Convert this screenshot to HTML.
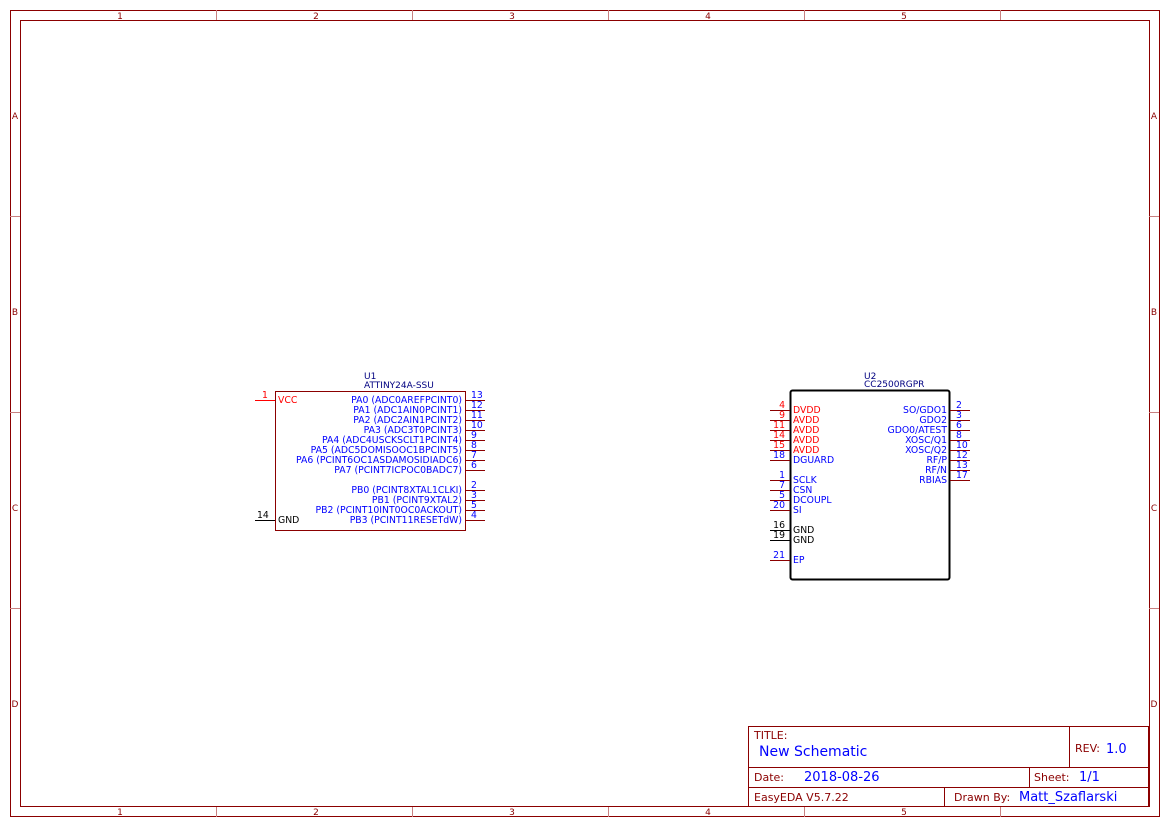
<!DOCTYPE html>
<html><head><meta charset="utf-8"><style>
html,body{margin:0;padding:0;background:#fff;}
svg{display:block;font-family:"DejaVu Sans","Liberation Sans",sans-serif;}
</style></head><body>
<svg width="1169" height="827" viewBox="0 0 1169 827" xmlns="http://www.w3.org/2000/svg">
<g fill="none" stroke="#8b0000" stroke-width="1">
<rect x="10.5" y="10.5" width="1149" height="806"/>
<rect x="20.5" y="20.5" width="1129" height="786"/>
<g stroke="#c88080">
<line x1="216.5" y1="10" x2="216.5" y2="20"/><line x1="412.5" y1="10" x2="412.5" y2="20"/><line x1="608.5" y1="10" x2="608.5" y2="20"/><line x1="804.5" y1="10" x2="804.5" y2="20"/><line x1="1000.5" y1="10" x2="1000.5" y2="20"/>
<line x1="216.5" y1="807" x2="216.5" y2="817"/><line x1="412.5" y1="807" x2="412.5" y2="817"/><line x1="608.5" y1="807" x2="608.5" y2="817"/><line x1="804.5" y1="807" x2="804.5" y2="817"/><line x1="1000.5" y1="807" x2="1000.5" y2="817"/>
<line x1="10" y1="216.5" x2="20" y2="216.5"/><line x1="10" y1="412.5" x2="20" y2="412.5"/><line x1="10" y1="608.5" x2="20" y2="608.5"/>
<line x1="1149" y1="216.5" x2="1159" y2="216.5"/><line x1="1149" y1="412.5" x2="1159" y2="412.5"/><line x1="1149" y1="608.5" x2="1159" y2="608.5"/>
</g>
<rect x="748.5" y="726.5" width="400" height="80"/>
<line x1="748" y1="767.5" x2="1149" y2="767.5"/>
<line x1="748" y1="787.5" x2="1149" y2="787.5"/>
<line x1="1069.5" y1="726" x2="1069.5" y2="767"/>
<line x1="1029.5" y1="767" x2="1029.5" y2="787"/>
<line x1="944.5" y1="787" x2="944.5" y2="807"/>
</g>
<g fill="#8b0000" font-size="9" text-anchor="middle">
<text x="120" y="19">1</text><text x="316" y="19">2</text><text x="512" y="19">3</text><text x="708" y="19">4</text><text x="904" y="19">5</text>
<text x="120" y="815">1</text><text x="316" y="815">2</text><text x="512" y="815">3</text><text x="708" y="815">4</text><text x="904" y="815">5</text>
<text x="15" y="119">A</text><text x="15" y="315">B</text><text x="15" y="511">C</text><text x="15" y="707">D</text>
<text x="1154" y="119">A</text><text x="1154" y="315">B</text><text x="1154" y="511">C</text><text x="1154" y="707">D</text>
</g>
<g font-size="11">
<text x="754" y="739" fill="#8b0000">TITLE:</text>
<text x="759" y="756" fill="#0000ff" font-size="14">New Schematic</text>
<text x="1075" y="752" fill="#8b0000">REV:</text>
<text x="1106" y="753" fill="#0000ff" font-size="13">1.0</text>
<text x="754" y="781" fill="#8b0000">Date:</text>
<text x="804" y="781" fill="#0000ff" font-size="13">2018-08-26</text>
<text x="1034" y="781" fill="#8b0000">Sheet:</text>
<text x="1079" y="781" fill="#0000ff" font-size="13">1/1</text>
<text x="754" y="801" fill="#8b0000">EasyEDA V5.7.22</text>
<text x="954" y="801" fill="#8b0000">Drawn By:</text>
<text x="1019" y="801" fill="#0000ff" font-size="13">Matt_Szaflarski</text>
</g>

<text x="364" y="379" font-size="9" fill="#000080">U1</text>
<text x="364" y="388" font-size="9" fill="#000080">ATTINY24A-SSU</text>
<rect x="275.5" y="391.5" width="190" height="139" fill="none" stroke="#8b0000"/>
<line x1="255" y1="400.5" x2="275" y2="400.5" stroke="#ff0000"/>
<line x1="255" y1="520.5" x2="275" y2="520.5" stroke="#000"/>
<g stroke="#8b0000">
<line x1="465" y1="400.5" x2="485" y2="400.5"/><line x1="465" y1="410.5" x2="485" y2="410.5"/><line x1="465" y1="420.5" x2="485" y2="420.5"/><line x1="465" y1="430.5" x2="485" y2="430.5"/><line x1="465" y1="440.5" x2="485" y2="440.5"/><line x1="465" y1="450.5" x2="485" y2="450.5"/><line x1="465" y1="460.5" x2="485" y2="460.5"/><line x1="465" y1="470.5" x2="485" y2="470.5"/>
<line x1="465" y1="490.5" x2="485" y2="490.5"/><line x1="465" y1="500.5" x2="485" y2="500.5"/><line x1="465" y1="510.5" x2="485" y2="510.5"/><line x1="465" y1="520.5" x2="485" y2="520.5"/>
</g>
<g font-size="9.3" transform="translate(0,-1)">
<text x="262" y="399" fill="#ff0000">1</text>
<text x="278" y="404" fill="#ff0000">VCC</text>
<text x="257" y="519" fill="#000">14</text>
<text x="278" y="524" fill="#000">GND</text>
<g fill="#0000ff">
<g text-anchor="end">
<text x="462" y="404">PA0 (ADC0AREFPCINT0)</text>
<text x="462" y="414">PA1 (ADC1AIN0PCINT1)</text>
<text x="462" y="424">PA2 (ADC2AIN1PCINT2)</text>
<text x="462" y="434">PA3 (ADC3T0PCINT3)</text>
<text x="462" y="444">PA4 (ADC4USCKSCLT1PCINT4)</text>
<text x="462" y="454">PA5 (ADC5DOMISOOC1BPCINT5)</text>
<text x="462" y="464">PA6 (PCINT6OC1ASDAMOSIDIADC6)</text>
<text x="462" y="474">PA7 (PCINT7ICPOC0BADC7)</text>
<text x="462" y="494">PB0 (PCINT8XTAL1CLKI)</text>
<text x="462" y="504">PB1 (PCINT9XTAL2)</text>
<text x="462" y="514">PB2 (PCINT10INT0OC0ACKOUT)</text>
<text x="462" y="524">PB3 (PCINT11RESETdW)</text>
</g>
<text x="471" y="399">13</text><text x="471" y="409">12</text><text x="471" y="419">11</text><text x="471" y="429">10</text><text x="471" y="439">9</text><text x="471" y="449">8</text><text x="471" y="459">7</text><text x="471" y="469">6</text>
<text x="471" y="489">2</text><text x="471" y="499">3</text><text x="471" y="509">5</text><text x="471" y="519">4</text>
</g>
</g>

<text x="864" y="379" font-size="9" fill="#000080">U2</text>
<text x="864" y="387" font-size="9" fill="#000080">CC2500RGPR</text>
<rect x="790.5" y="390.5" width="159" height="189" rx="2" fill="none" stroke="#000" stroke-width="2"/>
<g stroke="#8b0000">
<line x1="770" y1="410.5" x2="790" y2="410.5"/><line x1="770" y1="420.5" x2="790" y2="420.5"/><line x1="770" y1="430.5" x2="790" y2="430.5"/><line x1="770" y1="440.5" x2="790" y2="440.5"/><line x1="770" y1="450.5" x2="790" y2="450.5"/><line x1="770" y1="460.5" x2="790" y2="460.5"/>
<line x1="770" y1="480.5" x2="790" y2="480.5"/><line x1="770" y1="490.5" x2="790" y2="490.5"/><line x1="770" y1="500.5" x2="790" y2="500.5"/><line x1="770" y1="510.5" x2="790" y2="510.5"/>
<line x1="770" y1="560.5" x2="790" y2="560.5"/>
<line x1="950" y1="410.5" x2="970" y2="410.5"/><line x1="950" y1="420.5" x2="970" y2="420.5"/><line x1="950" y1="430.5" x2="970" y2="430.5"/><line x1="950" y1="440.5" x2="970" y2="440.5"/><line x1="950" y1="450.5" x2="970" y2="450.5"/><line x1="950" y1="460.5" x2="970" y2="460.5"/><line x1="950" y1="470.5" x2="970" y2="470.5"/><line x1="950" y1="480.5" x2="970" y2="480.5"/>
</g>
<g stroke="#000"><line x1="770" y1="530.5" x2="790" y2="530.5"/><line x1="770" y1="540.5" x2="790" y2="540.5"/></g>
<g font-size="9.3" transform="translate(0,-1)">
<g fill="#ff0000">
<text x="793" y="414">DVDD</text><text x="793" y="424">AVDD</text><text x="793" y="434">AVDD</text><text x="793" y="444">AVDD</text><text x="793" y="454">AVDD</text>
<g text-anchor="end"><text x="785" y="409">4</text><text x="785" y="419">9</text><text x="785" y="429">11</text><text x="785" y="439">14</text><text x="785" y="449">15</text></g>
</g>
<g fill="#0000ff">
<text x="793" y="464">DGUARD</text><text x="793" y="484">SCLK</text><text x="793" y="494">CSN</text><text x="793" y="504">DCOUPL</text><text x="793" y="514">SI</text><text x="793" y="564">EP</text>
<g text-anchor="end"><text x="785" y="459">18</text><text x="785" y="479">1</text><text x="785" y="489">7</text><text x="785" y="499">5</text><text x="785" y="509">20</text><text x="785" y="559">21</text></g>
<g text-anchor="end">
<text x="947" y="414">SO/GDO1</text><text x="947" y="424">GDO2</text><text x="947" y="434">GDO0/ATEST</text><text x="947" y="444">XOSC/Q1</text><text x="947" y="454">XOSC/Q2</text><text x="947" y="464">RF/P</text><text x="947" y="474">RF/N</text><text x="947" y="484">RBIAS</text>
</g>
<text x="956" y="409">2</text><text x="956" y="419">3</text><text x="956" y="429">6</text><text x="956" y="439">8</text><text x="956" y="449">10</text><text x="956" y="459">12</text><text x="956" y="469">13</text><text x="956" y="479">17</text>
</g>
<g fill="#000">
<text x="793" y="534">GND</text><text x="793" y="544">GND</text>
<g text-anchor="end"><text x="785" y="529">16</text><text x="785" y="539">19</text></g>
</g>
</g>
</svg>
</body></html>
